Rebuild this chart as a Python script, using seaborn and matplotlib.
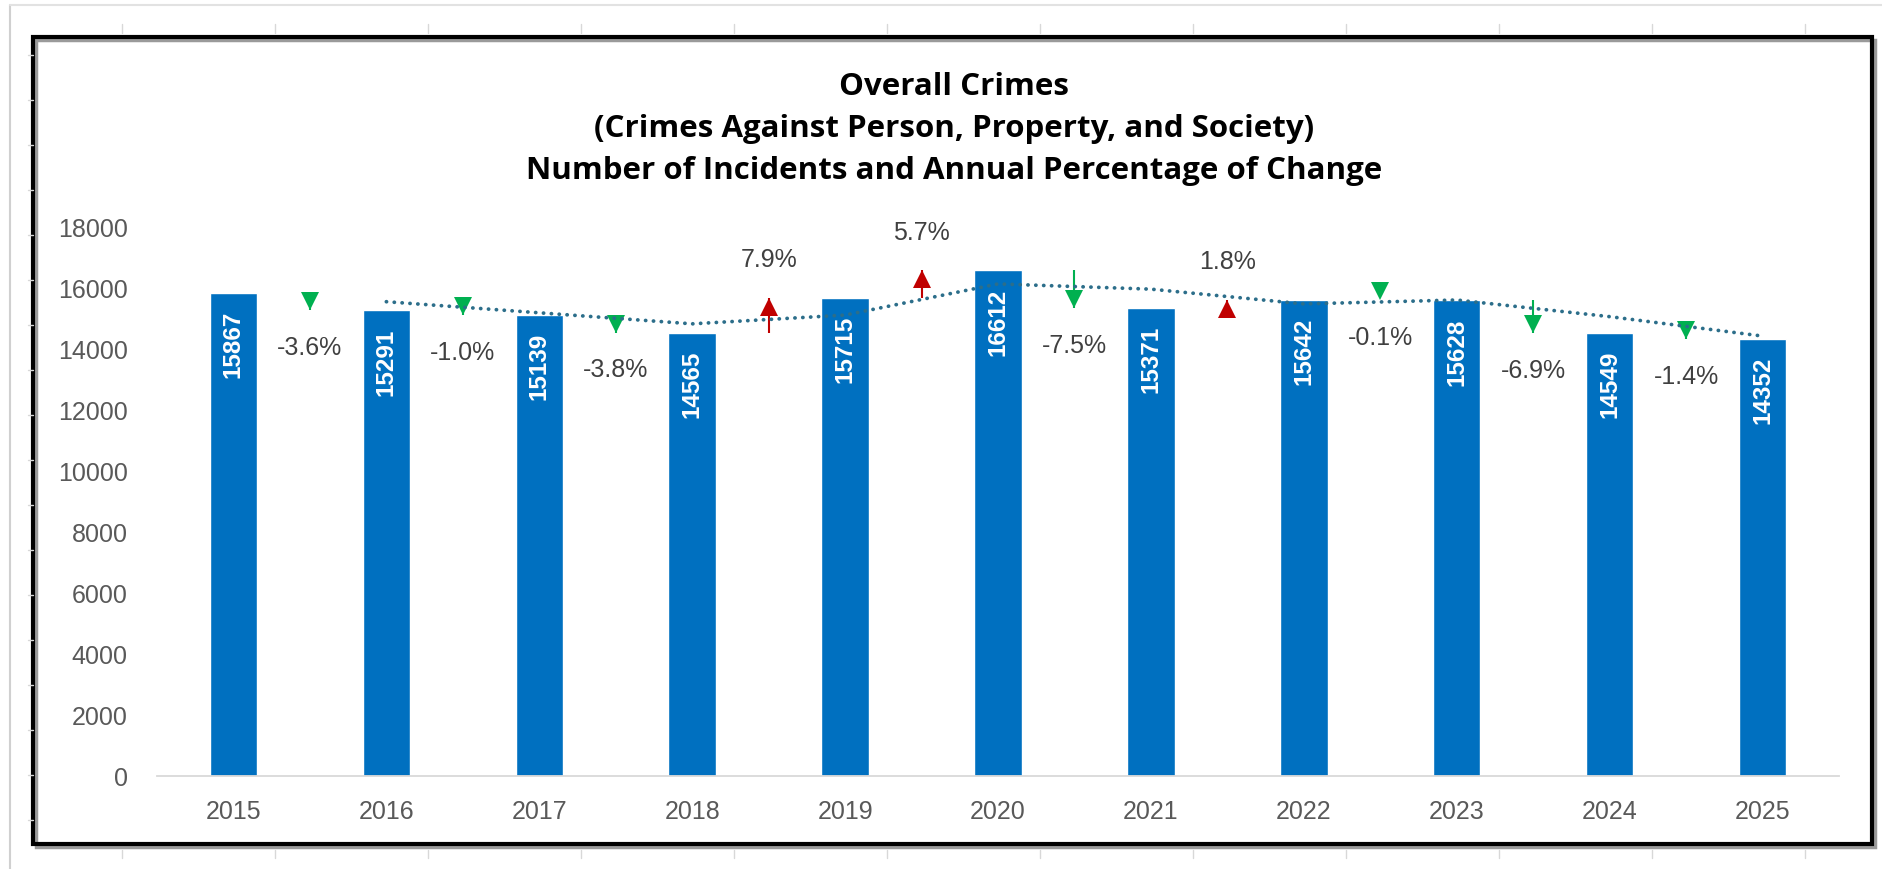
import numpy as np
import pandas as pd
import matplotlib.pyplot as plt
import matplotlib.transforms as mtransforms
from matplotlib.patches import Rectangle
from matplotlib.lines import Line2D
import seaborn as sns

# Dados
anos = ['2015', '2016', '2017', '2018', '2019', '2020', '2021', '2022', '2023', '2024', '2025']
incidentes = [15867, 15291, 15139, 14565, 15715, 16612, 15371, 15642, 15628, 14549, 14352]
variacao_pct = [-3.6, -1.0, -3.8, 7.9, 5.7, -7.5, 1.8, -0.1, -6.9, -1.4]
y_ticks = [0, 2000, 4000, 6000, 8000, 10000, 12000, 14000, 16000, 18000]

titulo = [
    'Overall Crimes',
    '(Crimes Against Person, Property, and Society)',
    'Number of Incidents and Annual Percentage of Change',
]

AZUL = '#0070C0'
VERDE = '#00B050'
VERMELHO = '#C00000'
TENDENCIA = '#2C6E8A'
CINZA_TXT = '#595959'

W, H = 1882, 869
MS = 13  # tamanho da ponta da seta (pt)

sns.set_theme(style='white')
plt.rcParams['font.family'] = ['Liberation Sans', 'DejaVu Sans']

fig = plt.figure(figsize=(W / 100, H / 100), dpi=100)
fig.patch.set_facecolor('white')
ax = fig.add_axes([157 / W, 1 - 776 / H, (1839 - 157) / W, (776 - 228) / H])
ax.patch.set_alpha(0)

df = pd.DataFrame({'ano': anos, 'incidentes': incidentes})
df['pos'] = np.arange(len(df))
# Linha de tendência: média móvel de 2 períodos
df['media_movel'] = df['incidentes'].rolling(2).mean()

# Barras
sns.barplot(data=df, x='ano', y='incidentes', color=AZUL, width=0.31,
            saturation=1, errorbar=None, ax=ax, zorder=2)

# Rótulos dentro das barras
for i, v in enumerate(incidentes):
    ax.annotate(str(v), xy=(i, v), xytext=(0, -13), textcoords='offset points',
                rotation=90, ha='center', va='top', color='white',
                fontweight='bold', fontsize=17.5, zorder=4)

# Setas de variação anual
for i, pct in enumerate(variacao_pct):
    x = i + 0.5
    y0, y1 = incidentes[i], incidentes[i + 1]
    subiu = y1 > y0
    cor = VERMELHO if subiu else VERDE
    ax.plot([x, x], [y0, y1], color=cor, lw=1.5, solid_capstyle='butt', zorder=3)
    desloc = -MS / 2 if subiu else MS / 2
    tr = mtransforms.offset_copy(ax.transData, fig=fig, y=desloc, units='points')
    ax.plot(x, y1, marker='^' if subiu else 'v', ms=MS, color=cor, mew=0,
            transform=tr, zorder=3)
    ax.annotate(f'{pct:.1f}%', xy=(x, y1), xytext=(0, 27 if subiu else -27),
                textcoords='offset points', ha='center', va='center',
                fontsize=18, color='#404040', zorder=4)

# Linha de tendência pontilhada
sns.lineplot(data=df.dropna(), x='pos', y='media_movel', color=TENDENCIA,
             lw=2.7, ls=(0, (0.05, 2.05)), dash_capstyle='round', ax=ax, zorder=5)

# Eixos
ax.set_xlim(-0.5, 10.5)
ax.set_ylim(0, 18000)
ax.set_yticks(y_ticks)
ax.set_yticklabels([str(t) for t in y_ticks])
ax.set_xlabel('')
ax.set_ylabel('')
for lado in ['top', 'right', 'left']:
    ax.spines[lado].set_visible(False)
ax.spines['bottom'].set_color('#D9D9D9')
ax.spines['bottom'].set_linewidth(1.3)
ax.tick_params(axis='y', length=0, pad=21, labelsize=18, labelcolor=CINZA_TXT)
ax.tick_params(axis='x', length=0, pad=17, labelsize=18, labelcolor=CINZA_TXT)
ax.grid(False)

# Título
for texto, yc in zip(titulo, [87, 129, 171]):
    fig.text(954 / W, 1 - yc / H, texto, ha='center', va='center',
             fontsize=22.5, fontweight='bold', color='black',
             family=['Open Sans', 'DejaVu Sans'])

# Moldura do gráfico com sombra
fig.add_artist(Rectangle((36 / W, 1 - 847 / H), (1872 - 33) / W, (844 - 37) / H,
                         transform=fig.transFigure, fill=False, ec='#9A9A9A', lw=2.5, zorder=0))
fig.add_artist(Rectangle((33 / W, 1 - 844 / H), (1872 - 33) / W, (844 - 37) / H,
                         transform=fig.transFigure, fill=False, ec='black', lw=3, zorder=1))

# Grade da planilha ao fundo
fig.add_artist(Line2D([10 / W, 10 / W], [0, 1 - 5 / H], transform=fig.transFigure,
                      color='#D0D0D0', lw=1.5))
fig.add_artist(Line2D([10 / W, 1], [1 - 5 / H, 1 - 5 / H], transform=fig.transFigure,
                      color='#E2E2E2', lw=1.5))
for k in range(12):
    xk = (122 + 153 * k) / W
    fig.add_artist(Line2D([xk, xk], [1 - 33 / H, 1 - 24 / H], transform=fig.transFigure,
                          color='#D8D8D8', lw=1))
    fig.add_artist(Line2D([xk, xk], [1 - 858 / H, 1 - 850 / H], transform=fig.transFigure,
                          color='#D8D8D8', lw=1))
for k in range(18):
    yk = 1 - (55 + 45 * k) / H
    fig.add_artist(Line2D([28 / W, 33 / W], [yk, yk], transform=fig.transFigure,
                          color='#D8D8D8', lw=1))

fig.savefig('out.png', dpi=100, facecolor='white')
